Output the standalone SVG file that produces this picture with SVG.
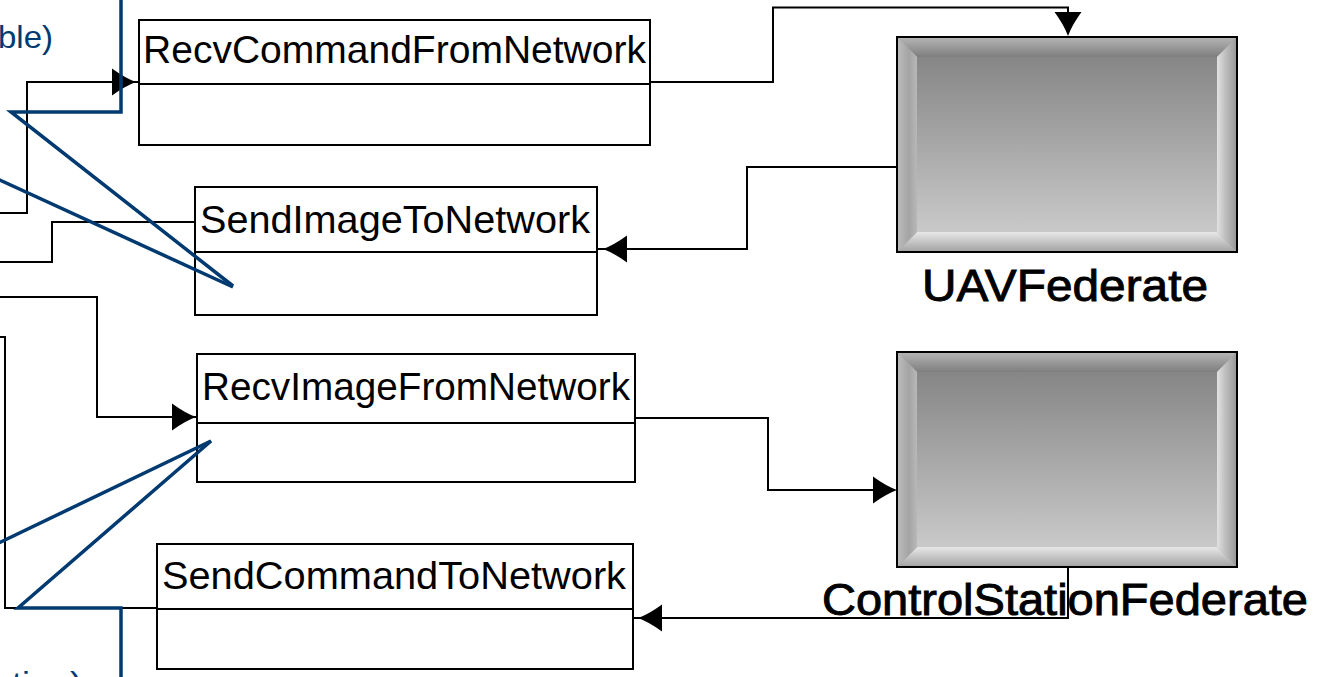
<svg xmlns="http://www.w3.org/2000/svg" xmlns:xlink="http://www.w3.org/1999/xlink" width="1327" height="677" viewBox="0 0 1327 677">
  <style>
    .box { fill: #fff; stroke: #000; stroke-width: 2; }
    .sep { fill: none; stroke: #000; stroke-width: 2; }
    .ttl { font-family: "Liberation Sans", Arial, sans-serif; font-size: 39px; fill: #000; }
    .lbl { font-family: "Liberation Sans", Arial, sans-serif; font-size: 44px; fill: #000; stroke: #000; stroke-width: 0.9; }
    .wire { fill: none; stroke: #000; stroke-width: 2; }
    .head { fill: #000; }
    .note { fill: none; stroke: #003a70; stroke-width: 3.5; stroke-linejoin: miter; }
    .notetxt { font-family: "Liberation Sans", Arial, sans-serif; font-size: 32px; fill: #003a70; }
  </style>
  <defs>
    <!-- bevelled federate block shading -->
    <linearGradient id="gTop" x1="0" y1="0" x2="0" y2="1">
      <stop offset="0" stop-color="#b6b6b6"/>
      <stop offset="1" stop-color="#7e7e7e"/>
    </linearGradient>
    <linearGradient id="gBot" x1="0" y1="0" x2="0" y2="1">
      <stop offset="0" stop-color="#e8e8e8"/>
      <stop offset="0.35" stop-color="#cfcfcf"/>
      <stop offset="1" stop-color="#a2a2a2"/>
    </linearGradient>
    <linearGradient id="gLeft" x1="0" y1="0" x2="1" y2="0">
      <stop offset="0" stop-color="#bdbdbd"/>
      <stop offset="0.6" stop-color="#a4a4a4"/>
      <stop offset="1" stop-color="#b8b8b8"/>
    </linearGradient>
    <linearGradient id="gRight" x1="0" y1="0" x2="1" y2="0">
      <stop offset="0" stop-color="#e2e2e2"/>
      <stop offset="0.4" stop-color="#c0c0c0"/>
      <stop offset="1" stop-color="#969696"/>
    </linearGradient>
    <linearGradient id="gFace" x1="0" y1="0" x2="0" y2="1">
      <stop offset="0" stop-color="#868686"/>
      <stop offset="1" stop-color="#c9c9c9"/>
    </linearGradient>
    <g id="fedShape">
      <rect x="0" y="0" width="340" height="215" fill="#a8a8a8"/>
      <polygon points="0,0 340,0 320,20 20,20" fill="url(#gTop)"/>
      <polygon points="0,215 340,215 320,195 20,195" fill="url(#gBot)"/>
      <polygon points="0,0 20,20 20,195 0,215" fill="url(#gLeft)"/>
      <polygon points="340,0 320,20 320,195 340,215" fill="url(#gRight)"/>
      <rect x="20" y="20" width="300" height="175" fill="url(#gFace)"/>
      <rect x="0" y="0" width="340" height="215" fill="none" stroke="#000" stroke-width="2"/>
    </g>
    <!-- arrowhead, tip at origin, pointing along +x -->
    <path id="ah" d="M0,0 Q-11,-4 -24,-13.5 L-24,13.5 Q-11,4 0,0 Z"/>
  </defs>

  <!-- connectors -->
  <g id="connectors">
    <path class="wire" d="M650,82 H773 V7.5 H1068 V30"/>
    <path class="wire" d="M897,167 H747 V249 H598"/>
    <path class="wire" d="M635,418 H768 V490 H892"/>
    <path class="wire" d="M1068,567 V618 H633"/>
    <path class="wire" d="M-2,213 H27 V82 H139"/>
    <path class="wire" d="M195,222 H52 V262 H-2"/>
    <path class="wire" d="M-2,297 H97 V417 H197"/>
    <path class="wire" d="M157,608 H5 V337 H-2"/>
    <use href="#ah" class="head" transform="translate(1068,36) rotate(90)"/>
    <use href="#ah" class="head" transform="translate(603,249) rotate(180)"/>
    <use href="#ah" class="head" transform="translate(897,490)"/>
    <use href="#ah" class="head" transform="translate(638,618) rotate(180)"/>
    <use href="#ah" class="head" transform="translate(136,82)"/>
    <use href="#ah" class="head" transform="translate(196,417)"/>
  </g>

  <g id="recvCommandFromNetwork">
    <rect class="box" x="139" y="20" width="511" height="125"/>
    <line class="sep" x1="139" y1="84" x2="650" y2="84"/>
    <text class="ttl" x="143" y="63" textLength="503" lengthAdjust="spacingAndGlyphs">RecvCommandFromNetwork</text>
  </g>

  <g id="sendImageToNetwork">
    <rect class="box" x="195" y="187" width="402" height="128"/>
    <line class="sep" x1="195" y1="252" x2="597" y2="252"/>
    <text class="ttl" x="200" y="233" textLength="390" lengthAdjust="spacingAndGlyphs">SendImageToNetwork</text>
  </g>

  <g id="recvImageFromNetwork">
    <rect class="box" x="197" y="354" width="438" height="128"/>
    <line class="sep" x1="197" y1="423" x2="635" y2="423"/>
    <text class="ttl" x="202" y="400" textLength="428" lengthAdjust="spacingAndGlyphs">RecvImageFromNetwork</text>
  </g>

  <g id="sendCommandToNetwork">
    <rect class="box" x="157" y="544" width="476" height="125"/>
    <line class="sep" x1="157" y1="609" x2="633" y2="609"/>
    <text class="ttl" x="162" y="589" textLength="464" lengthAdjust="spacingAndGlyphs">SendCommandToNetwork</text>
  </g>

  <g id="uavFederate">
    <use href="#fedShape" transform="translate(897,37)"/>
    <text class="lbl" x="922" y="301" textLength="286" lengthAdjust="spacingAndGlyphs">UAVFederate</text>
  </g>

  <g id="controlStationFederate">
    <use href="#fedShape" transform="translate(897,352)"/>
    <text class="lbl" x="822" y="615" textLength="486" lengthAdjust="spacingAndGlyphs">ControlStationFederate</text>
  </g>

  <!-- callout lines with their captions -->
  <g id="calloutTop">
    <polyline class="note" points="121,-2 121,112 11,112 233,286"/>
    <line class="note" x1="-20" y1="171" x2="233" y2="287"/>
    <text class="notetxt" x="-2" y="48" textLength="55" lengthAdjust="spacingAndGlyphs">ble)</text>
  </g>
  <g id="calloutBottom">
    <polyline class="note" points="121,679 121,608 18,608 211,441"/>
    <line class="note" x1="-20" y1="552" x2="211" y2="441"/>
    <text class="notetxt" x="12" y="694" textLength="70" lengthAdjust="spacingAndGlyphs">tion)</text>
  </g>
</svg>
